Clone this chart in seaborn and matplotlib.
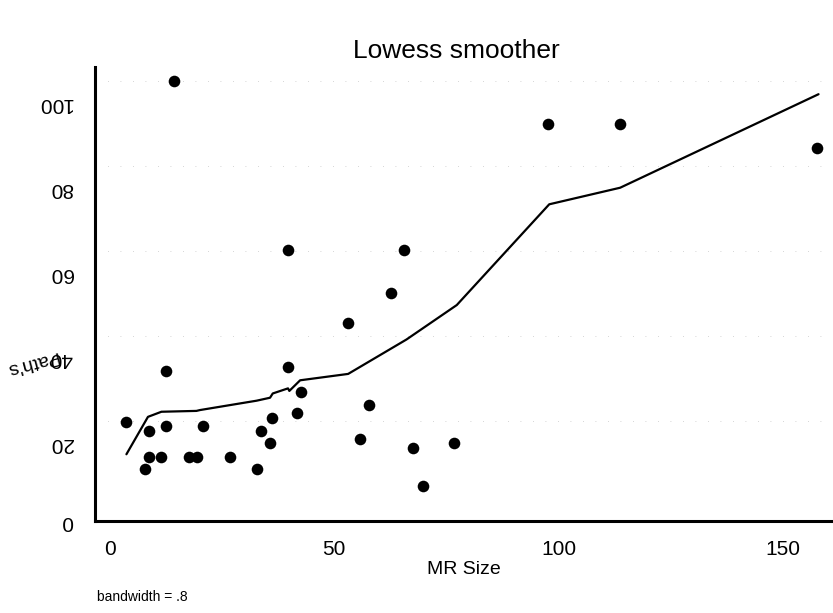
import matplotlib
matplotlib.use("Agg")
import matplotlib.pyplot as plt
import matplotlib.transforms as mtransforms
import seaborn as sns
import pandas as pd

# Data
mr_size = [3.6, 7.8, 8.7, 8.7, 11.4, 12.6, 12.6, 14.3, 17.6, 19.5, 20.7, 26.7,
           32.8, 33.7, 35.7, 36.1, 39.7, 39.7, 41.8, 42.6, 53.1, 55.7, 57.7,
           62.6, 65.5, 67.6, 69.7, 76.7, 97.7, 113.7, 157.6]
path_s = [19.7, 8.8, 17.7, 11.6, 11.6, 18.8, 31.8, 100.0, 11.6, 11.6, 18.8, 11.6,
          8.8, 17.7, 14.8, 20.8, 60.2, 32.8, 21.8, 26.9, 43.1, 15.7, 23.8,
          50.1, 60.2, 13.7, 4.8, 14.8, 90.0, 90.0, 84.2]

lowess_x = [3.7, 8.5, 11.5, 19.3, 20.1, 32.7, 35.7, 36.3, 39.7, 40.0, 42.4,
            53.1, 66.1, 77.3, 97.9, 113.7, 157.9]
lowess_y = [12.2, 21.0, 22.2, 22.4, 22.6, 24.8, 25.5, 26.5, 27.7, 27.1, 29.6,
            31.1, 39.2, 47.3, 71.0, 74.9, 96.9]

x_ticks = [0, 50, 100, 150]
y_ticks = [0, 20, 40, 60, 80, 100]

title = "Lowess smoother"
x_label = "MR Size"
y_label = "Path's"
note = "bandwidth = .8"

sns.set_theme(style="white")
plt.rcParams["font.family"] = ["Liberation Sans", "DejaVu Sans"]

pts = pd.DataFrame({"mr": mr_size, "ps": path_s})
lw = pd.DataFrame({"mr": lowess_x, "ps": lowess_y})

W, H = 833, 613
fig = plt.figure(figsize=(W / 100, H / 100), dpi=100)
ax = fig.add_axes([95 / W, 1 - 521 / H, (832 - 95) / W, (521 - 67) / H])

sns.scatterplot(data=pts, x="mr", y="ps", ax=ax, color="black", s=70,
                edgecolor="black", linewidth=0, zorder=3)
sns.lineplot(data=lw, x="mr", y="ps", ax=ax, color="black", linewidth=1.6,
             sort=False, estimator=None, zorder=2)

ax.set_xlim(-3.3, 160.9)
ax.set_ylim(-3.5, 103.3)
ax.set_xticks(x_ticks)
ax.set_yticks(y_ticks)
ax.set_xticklabels([str(t) for t in x_ticks], fontsize=15)
ax.set_yticklabels([str(t) for t in y_ticks], fontsize=15, rotation=180)

for sp in ["top", "right"]:
    ax.spines[sp].set_visible(False)
for sp in ["left", "bottom"]:
    ax.spines[sp].set_linewidth(2.2)
    ax.spines[sp].set_color("black")

ax.tick_params(axis="y", which="major", direction="out", length=8, width=1.6,
               color="black", labelcolor="black", pad=8)
ax.tick_params(axis="x", which="major", direction="out", length=6, width=1.4,
               color="black", labelcolor="black", pad=8)

# y tick labels sit below their ticks in the reference
for lab, t in zip(ax.get_yticklabels(), y_ticks):
    dy = 13 if t == 0 else 20
    off = mtransforms.ScaledTranslation(0, -dy / 100, fig.dpi_scale_trans)
    lab.set_transform(lab.get_transform() + off)

# faint dotted grid
for yv in y_ticks[1:]:
    ax.axhline(yv, color="#c8c8c8", linewidth=0.6, linestyle=(0, (1, 14)), zorder=0)

ax.set_xlabel(x_label, fontsize=14, labelpad=1, color="black")
ax.set_ylabel("")

fig.text(456 / W, 1 - 58 / H, title, fontsize=19, ha="center", va="baseline",
         color="black")
fig.text(32 / W, 1 - 362 / H, y_label, fontsize=14, rotation=195,
         ha="center", va="center", color="black")
fig.text(97 / W, 1 - 597 / H, note, fontsize=10, ha="left", va="center",
         color="black")

fig.savefig("out.png", dpi=100, facecolor="white")
